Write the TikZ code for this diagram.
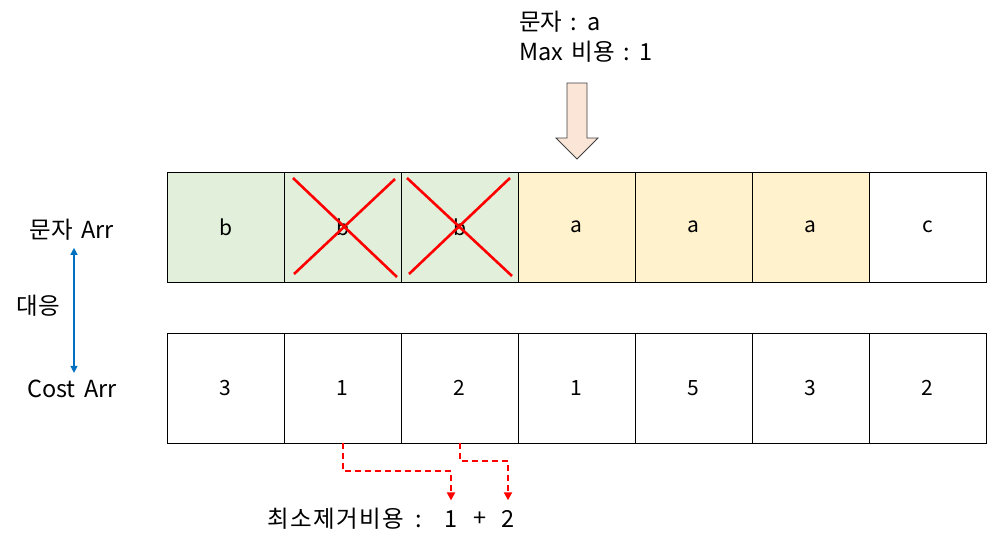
\documentclass[tikz,border=0pt]{standalone}
\usepackage{fontspec}
\setmainfont[WordSpace=1.6]{Noto Sans CJK KR}
\usetikzlibrary{arrows.meta,calc}
\definecolor{cgreen}{HTML}{E2EFDA}
\definecolor{cyellow}{HTML}{FFF2CC}
\definecolor{cpeach}{HTML}{FBE5D6}
\definecolor{cblue}{HTML}{0070C0}
\tikzset{
  cell/.style={draw=black, line width=0.9pt, minimum width=117pt, minimum height=110pt, inner sep=0pt, font=\fontsize{21}{24}\selectfont},
  lbl/.style={inner sep=0pt, font=\fontsize{23.5}{27}\selectfont},
  crossline/.style={draw=red, line width=2.6pt},
  dashconn/.style={draw=red, line width=2pt, dash pattern=on 6pt off 4pt, -{Triangle[length=8pt,width=8pt]}},
}
\begin{document}
\begin{tikzpicture}[x=1pt,y=-1pt]
\useasboundingbox (0,0) rectangle (988,547);
% top row
\node[cell, fill=cgreen] (t1) at (225.5,227) {b};
\node[cell, fill=cgreen] (t2) at (342.5,227) {b};
\node[cell, fill=cgreen] (t3) at (459.5,227) {b};
\node[cell, fill=cyellow] (t4) at (576.5,227) {a};
\node[cell, fill=cyellow] (t5) at (693.5,227) {a};
\node[cell, fill=cyellow] (t6) at (810.5,227) {a};
\node[cell, fill=white] (t7) at (927.5,227) {c};
% bottom row
\node[cell] (b1) at (225.5,388) {3};
\node[cell] (b2) at (342.5,388) {1};
\node[cell] (b3) at (459.5,388) {2};
\node[cell] (b4) at (576.5,388) {1};
\node[cell] (b5) at (693.5,388) {5};
\node[cell] (b6) at (810.5,388) {3};
\node[cell] (b7) at (927.5,388) {2};
% crosses
\draw[crossline] (293,178) -- (397,277);
\draw[crossline] (294,274) -- (395,179);
\draw[crossline] (407,178) -- (512,276);
\draw[crossline] (409,274) -- (510,178);
% top text
\node[lbl, anchor=west] (ch) at (519,22) {문자 : a};
\node[lbl, anchor=west] (mx) at (519,52) {Max 비용 : 1};
% block arrow
\draw[draw=black!75, line width=0.8pt, fill=cpeach] (567,83) -- (587,83) -- (587,138) -- (598,138) -- (577,159) -- (556,138) -- (567,138) -- cycle;
% left labels
\node[lbl] (la) at (72,230) {문자 Arr};
\node[lbl] (lc) at (72,389) {Cost Arr};
\node[lbl] (ld) at (38,306) {대응};
\draw[cblue, line width=1.4pt, {Triangle[length=7pt,width=7pt]}-{Triangle[length=7pt,width=7pt]}] ($(la.south)+(2,7)$) -- ($(lc.north)+(2,-7)$);
% bottom text
\node[lbl, anchor=east] (mc) at (422,519) {\addfontfeature{LetterSpace=6}최소제거비용 :};
\node[lbl] (n1) at (451,519) {1};
\node[lbl] (pl) at (480,519) {+};
\node[lbl] (n2) at (508,519) {2};
\draw[dashconn] (b2.south) -- ++(0,28) -| ($(n1.north)+(0,-10)$);
\draw[dashconn] (b3.south) -- ++(0,18) -| ($(n2.north)+(0,-10)$);
\end{tikzpicture}
\end{document}
